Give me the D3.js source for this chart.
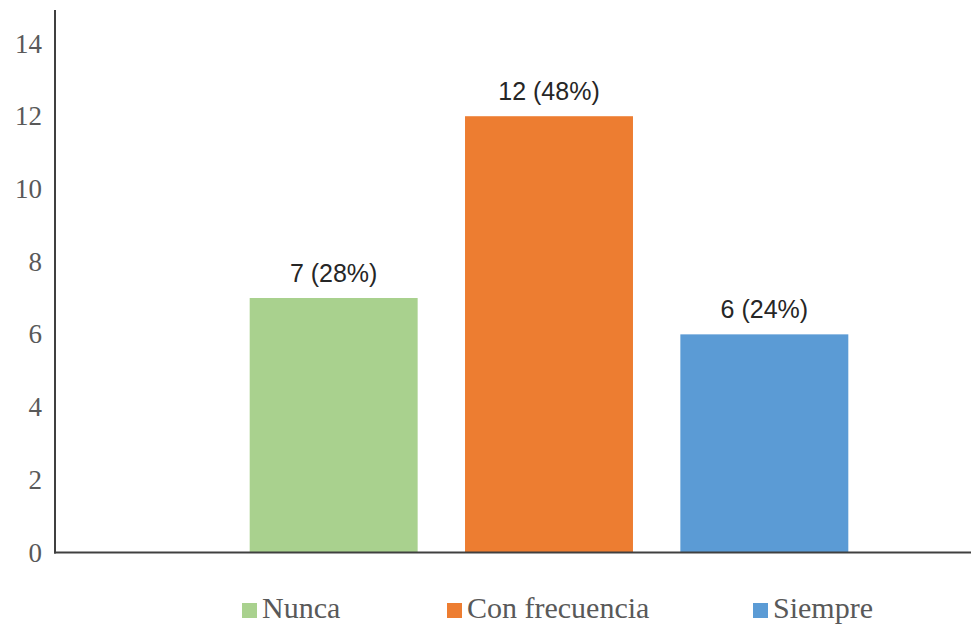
<!DOCTYPE html>
<html>
<head>
<meta charset="utf-8">
<script src="https://cdn.jsdelivr.net/npm/d3@7"></script>
<style>
html,body{margin:0;padding:0;background:#fff;}
svg{display:block;}
</style>
</head>
<body>
<svg id="chart" width="971" height="626"></svg>
<script>
const categories = ["Nunca", "Con frecuencia", "Siempre"];
const values = [7, 12, 6];
const labels = ["7 (28%)", "12 (48%)", "6 (24%)"];
const colors = ["#A9D18E", "#ED7D31", "#5B9BD5"];
const yTicks = [0, 2, 4, 6, 8, 10, 12, 14];
const legendX = [242, 447, 753];

const svg = d3.select("#chart");
const axisX = 55, baseY = 552.5, topY = 43.5;

const y = d3.scaleLinear().domain([0, 14]).range([baseY, topY]);
const x = d3.scaleBand().domain(categories).range([226, 872]).paddingInner(0.22).paddingOuter(0.11);

// bars
svg.selectAll("rect.bar").data(categories).enter().append("rect")
  .attr("class", "bar")
  .attr("x", d => x(d))
  .attr("width", x.bandwidth())
  .attr("y", (d, i) => y(values[i]))
  .attr("height", (d, i) => baseY - y(values[i]))
  .attr("fill", (d, i) => colors[i]);

// data labels
svg.selectAll("text.lbl").data(categories).enter().append("text")
  .attr("class", "lbl")
  .attr("x", d => x(d) + x.bandwidth() / 2)
  .attr("y", (d, i) => y(values[i]) - 16)
  .attr("text-anchor", "middle")
  .attr("font-family", "'Liberation Sans', Arial, sans-serif")
  .attr("font-size", 25)
  .attr("fill", "#262626")
  .text((d, i) => labels[i]);

// y axis
const yAxis = d3.axisLeft(y).tickValues(yTicks).tickSize(0).tickPadding(13).tickFormat(d3.format("d"));
const gy = svg.append("g").attr("transform", `translate(${axisX},0)`).call(yAxis);
gy.select(".domain").remove();
gy.selectAll("text")
  .attr("font-family", "'Liberation Serif', 'Times New Roman', serif")
  .attr("font-size", 27)
  .attr("fill", "#595959");

// axis lines
svg.append("line").attr("x1", axisX).attr("x2", axisX).attr("y1", 10).attr("y2", baseY + 1)
  .attr("stroke", "#404040").attr("stroke-width", 2);
svg.append("line").attr("x1", axisX - 1).attr("x2", 971).attr("y1", baseY).attr("y2", baseY)
  .attr("stroke", "#404040").attr("stroke-width", 2);

// legend
const lg = svg.selectAll("g.leg").data(categories).enter().append("g")
  .attr("class", "leg")
  .attr("transform", (d, i) => `translate(${legendX[i]},0)`);
lg.append("rect").attr("x", 0).attr("y", 603).attr("width", 15).attr("height", 15)
  .attr("fill", (d, i) => colors[i]);
lg.append("text").attr("x", 20).attr("y", 618)
  .attr("font-family", "'Liberation Serif', 'Times New Roman', serif")
  .attr("font-size", 30)
  .attr("fill", "#595959")
  .text(d => d);
</script>
</body>
</html>
